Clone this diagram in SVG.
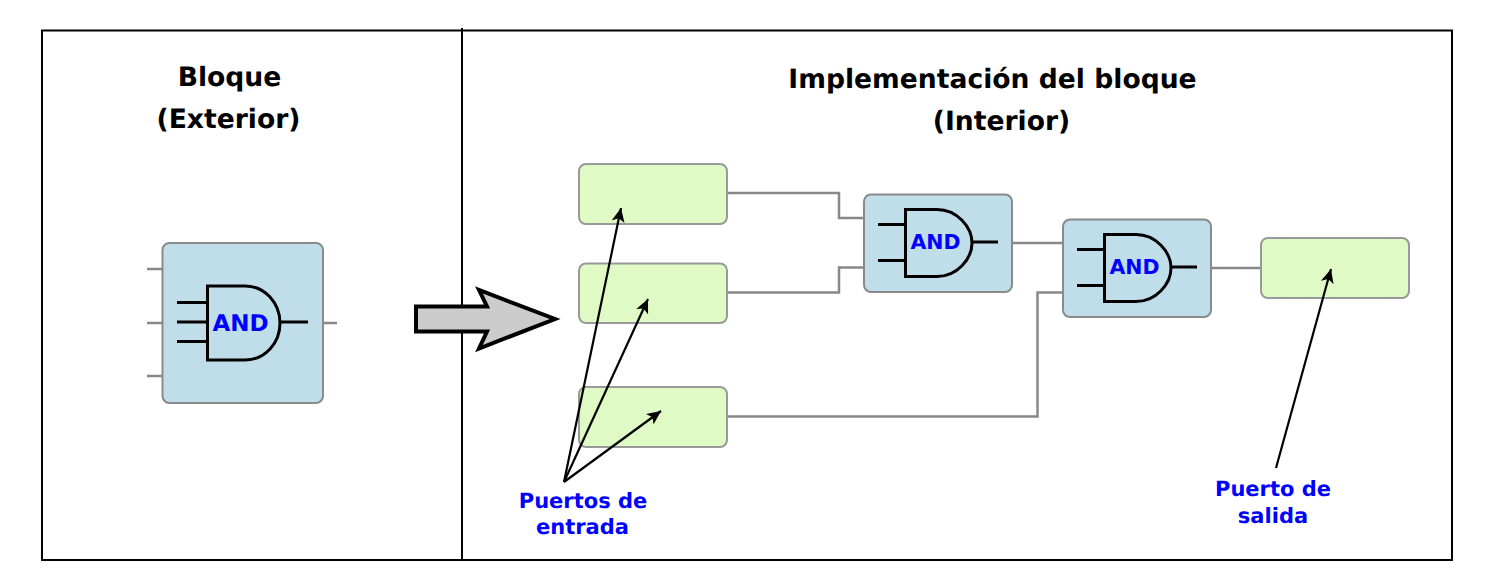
<svg xmlns="http://www.w3.org/2000/svg" width="1488" height="583" viewBox="0 0 1488 583">
<style>
text{font-family:"DejaVu Sans",sans-serif;font-weight:bold;text-anchor:middle;text-rendering:geometricPrecision}
.title{font-size:26.600px;fill:#000}
.lbl{font-size:21px;fill:#0000ff}
.and{fill:#0000ff}
.block{fill:#c0deea;stroke:#8a8a8a;stroke-width:2}
.port{fill:#e0fac6;stroke:#999;stroke-width:2}
.wire{fill:none;stroke:#888;stroke-width:2.500}
.gate{fill:none;stroke:#000;stroke-width:3}
.ptr{fill:none;stroke:#000;stroke-width:2.200;marker-end:url(#ah)}
</style>
<defs>
<marker id="ah" markerUnits="userSpaceOnUse" markerWidth="16" markerHeight="14" refX="14" refY="6.500" orient="auto">
<path d="M0,0L14,6.500L0,13L3.500,6.500Z" fill="#000"/>
</marker>
</defs>
<rect width="1488" height="583" fill="#fff"/>
<g id="frame">
<rect x="42" y="30.500" width="1410" height="529.500" fill="none" stroke="#000" stroke-width="2"/>
<path d="M462 28V560" fill="none" stroke="#000" stroke-width="2"/>
</g>
<g id="titles">
<text class="title" x="229.500" y="86">Bloque</text>
<text class="title" x="228.500" y="128">(Exterior)</text>
<text class="title" x="992.500" y="87.500">Implementación del bloque</text>
<text class="title" x="1001.500" y="129.500">(Interior)</text>
</g>
<g id="connectors">
<path class="wire" d="M147 269H162M147 323H162M147 376H162M323 323H337"/>
<path class="wire" d="M727 193H839V218H864"/>
<path class="wire" d="M727 292.500H839V267.500H864"/>
<path class="wire" d="M1012 243H1063"/>
<path class="wire" d="M727 416.500H1037.500V292.500H1063"/>
<path class="wire" d="M1211 268H1261"/>
</g>
<g id="block-exterior">
<rect class="block" x="162.500" y="243" width="160.500" height="160" rx="7"/>
<path class="gate" d="M245 286H207.500V360H245C265 360 280 343 280 323C280 303 265 286 245 286ZM177 302.500H207.500M177 322H207.500M177 341.500H207.500M280 322H308"/>
<text class="and" x="240.500" y="330.500" font-size="23">AND</text>
</g>
<g id="port-in-1"><rect class="port" x="579" y="164" width="148" height="60" rx="7"/></g>
<g id="port-in-2"><rect class="port" x="579" y="263.500" width="148" height="59.500" rx="7"/></g>
<g id="port-in-3"><rect class="port" x="579" y="387" width="148" height="60" rx="7"/></g>
<g id="port-out"><rect class="port" x="1261" y="238" width="148" height="60" rx="7"/></g>
<g id="and-1">
<rect class="block" x="864" y="194.500" width="148" height="97.500" rx="7"/>
<path class="gate" d="M937 209.500H905.500V276.500H937C957 276.500 972 259 972 243C972 227 957 209.500 937 209.500ZM878 224.500H905.500M878 260.500H905.500M972 242H998"/>
<text class="and" x="935.500" y="249" font-size="20.500">AND</text>
</g>
<g id="and-2">
<rect class="block" x="1063" y="219.500" width="148" height="97.500" rx="7"/>
<path class="gate" d="M1136 234.500H1104.500V301.500H1136C1156 301.500 1171 284 1171 268C1171 252 1156 234.500 1136 234.500ZM1077 249.500H1104.500M1077 285.500H1104.500M1171 267H1197"/>
<text class="and" x="1134.500" y="274" font-size="20.500">AND</text>
</g>
<g id="big-arrow">
<path d="M416 306.500H487L479 290L555 319L479 348.500L487 331.500H416Z" fill="#ccc" stroke="#000" stroke-width="4"/>
</g>
<g id="pointers">
<path class="ptr" d="M564 482L621 208"/>
<path class="ptr" d="M564 482L648 299"/>
<path class="ptr" d="M564 482L661 411"/>
<path class="ptr" d="M1276 468L1331 269"/>
</g>
<g id="labels">
<text class="lbl" x="583" y="508">Puertos de</text>
<text class="lbl" x="582.500" y="534">entrada</text>
<text class="lbl" x="1273" y="496">Puerto de</text>
<text class="lbl" x="1273" y="522.500">salida</text>
</g>
</svg>
